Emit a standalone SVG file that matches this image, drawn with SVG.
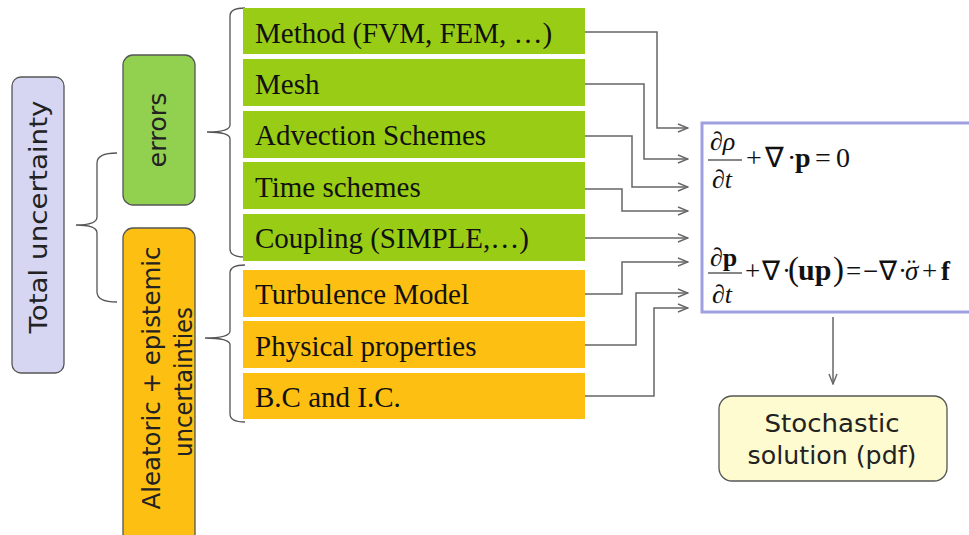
<svg xmlns="http://www.w3.org/2000/svg" width="969" height="535" viewBox="0 0 969 535">
<defs>
<marker id="arr" viewBox="0 0 12 10" refX="11" refY="5" markerWidth="12" markerHeight="10" markerUnits="userSpaceOnUse" orient="auto">
<path d="M1,1 L11,5 L1,9" fill="none" stroke="#666" stroke-width="1.4"/>
</marker>
<style>
.row{font-family:"Liberation Serif",serif;font-size:29px;fill:#111}
.green{fill:#99cc15}
.orange{fill:#fdbf12}
.cat{font-family:"DejaVu Sans","Liberation Sans",sans-serif;font-size:25px;fill:#222}
.conn{fill:none;stroke:#666;stroke-width:1.5}
.brace{fill:none;stroke:#555;stroke-width:1.3}
.eq{font-family:"Liberation Serif",serif;fill:#111}
</style>
</defs>
<rect width="969" height="535" fill="#fff"/>

<g id="total">
<rect x="12" y="77" width="52" height="296" rx="9" fill="#d6d6f2" stroke="#555" stroke-width="1.3"/>
<text class="cat" transform="translate(47,217) rotate(-90)" text-anchor="middle" textLength="233" lengthAdjust="spacingAndGlyphs">Total uncertainty</text>
</g>

<g id="errors">
<rect x="123" y="55" width="72" height="150" rx="10" fill="#92d050" stroke="#555" stroke-width="1.3"/>
<text class="cat" transform="translate(166,130) rotate(-90)" text-anchor="middle" textLength="75" lengthAdjust="spacingAndGlyphs">errors</text>
</g>

<g id="aleatoric">
<rect x="123" y="228" width="72" height="320" rx="10" fill="#fdbf12" stroke="#555" stroke-width="1.3"/>
<text class="cat" transform="translate(160,378) rotate(-90)" text-anchor="middle" textLength="263" lengthAdjust="spacingAndGlyphs">Aleatoric + epistemic</text>
<text class="cat" transform="translate(192,382) rotate(-90)" text-anchor="middle" textLength="150" lengthAdjust="spacingAndGlyphs">uncertainties</text>
</g>

<g id="braces">
<path class="brace" d="M117,153 Q97,153 97,163 V217 Q97,225 76,225 Q97,225 97,233 V292 Q97,302 117,302"/>
<path class="brace" d="M245,8 Q230,8 230,16 V125 Q230,132 207,132 Q230,132 230,139 V249 Q230,257 245,257"/>
<path class="brace" d="M245,265 Q230,265 230,273 V331 Q230,338 205,338 Q230,338 230,345 V414 Q230,422 245,422"/>
</g>

<g id="method"><rect class="green" x="243" y="8" width="342" height="46"/><text class="row" x="255" y="43">Method (FVM, FEM, …)</text></g>
<g id="mesh"><rect class="green" x="243" y="59" width="342" height="47"/><text class="row" x="255" y="94">Mesh</text></g>
<g id="advection"><rect class="green" x="243" y="111" width="342" height="47"/><text class="row" x="255" y="145">Advection Schemes</text></g>
<g id="time"><rect class="green" x="243" y="162" width="342" height="47"/><text class="row" x="255" y="197">Time schemes</text></g>
<g id="coupling"><rect class="green" x="243" y="214" width="342" height="47"/><text class="row" x="255" y="248">Coupling (SIMPLE,…)</text></g>
<g id="turbulence"><rect class="orange" x="243" y="270" width="342" height="47"/><text class="row" x="255" y="304">Turbulence Model</text></g>
<g id="physical"><rect class="orange" x="243" y="321" width="342" height="47"/><text class="row" x="255" y="356">Physical properties</text></g>
<g id="bcic"><rect class="orange" x="243" y="373" width="342" height="46"/><text class="row" x="255" y="407">B.C and I.C.</text></g>

<g id="equations">
<rect x="702" y="123" width="280" height="189" fill="#fff" stroke="#a0a0e0" stroke-width="3"/>
<g class="eq">
<text x="710" y="150" font-size="26">∂<tspan font-style="italic">ρ</tspan></text>
<line x1="708" y1="160" x2="742" y2="160" stroke="#111" stroke-width="1.2"/>
<text x="712" y="188" font-size="26">∂<tspan font-style="italic">t</tspan></text>
<text y="167" font-size="28"><tspan x="746">+</tspan><tspan x="765">∇</tspan><tspan x="787">·</tspan><tspan x="795" font-weight="bold">p</tspan><tspan x="815">=</tspan><tspan x="836">0</tspan></text>

<text x="710" y="266" font-size="26">∂<tspan font-weight="bold">p</tspan></text>
<line x1="708" y1="273" x2="742" y2="273" stroke="#111" stroke-width="1.2"/>
<text x="712" y="303" font-size="26">∂<tspan font-style="italic">t</tspan></text>
<text y="280" font-size="27"><tspan x="745">+</tspan><tspan x="762">∇</tspan><tspan x="782">·</tspan><tspan x="788" font-size="33">(</tspan><tspan x="798" font-size="30" font-weight="bold">up</tspan><tspan x="833" font-size="33">)</tspan><tspan x="846">=</tspan><tspan x="863">−</tspan><tspan x="879">∇</tspan><tspan x="898">·</tspan><tspan x="905" font-style="italic">σ</tspan><tspan x="922">+</tspan><tspan x="941" font-weight="bold">f</tspan></text>
<text x="907" y="278" font-size="27">¨</text>
</g>
</g>

<g id="solution">
<rect x="719" y="396" width="228" height="85" rx="13" fill="#fdfbcf" stroke="#555" stroke-width="1.3"/>
<text class="cat" x="832" y="432" text-anchor="middle" textLength="135" lengthAdjust="spacingAndGlyphs">Stochastic</text>
<text class="cat" x="832" y="464" text-anchor="middle" textLength="169" lengthAdjust="spacingAndGlyphs">solution (pdf)</text>
</g>

<g id="connectors">
<path class="conn" marker-end="url(#arr)" d="M585,32 H657 V128 H688"/>
<path class="conn" marker-end="url(#arr)" d="M585,84 H644 V159 H688"/>
<path class="conn" marker-end="url(#arr)" d="M585,136 H632 V187 H688"/>
<path class="conn" marker-end="url(#arr)" d="M585,189 H622 V211 H688"/>
<path class="conn" marker-end="url(#arr)" d="M585,238 H688"/>
<path class="conn" marker-end="url(#arr)" d="M585,294 H622 V262 H688"/>
<path class="conn" marker-end="url(#arr)" d="M585,345 H636 V293 H688"/>
<path class="conn" marker-end="url(#arr)" d="M585,396 H654 V308 H688"/>
<path class="conn" marker-end="url(#arr)" d="M833,317 V384"/>
</g>
</svg>
